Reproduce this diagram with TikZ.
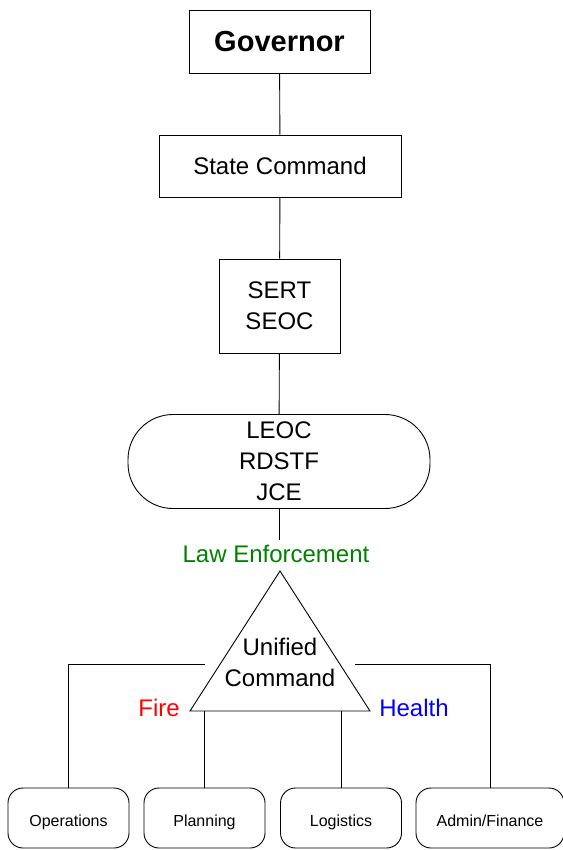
\documentclass[tikz,border=0pt]{standalone}
\usepackage{fontspec}
\setmainfont{Liberation Sans}
\definecolor{icsink}{HTML}{000000}
\definecolor{icsgreen}{HTML}{008000}
\definecolor{icsred}{HTML}{FF0000}
\definecolor{icsblue}{HTML}{0000FF}
\tikzset{
  ics line/.style={draw=icsink, line width=0.9pt},
  ics box/.style={ics line, rectangle, inner sep=0pt, align=center,
    font=\fontsize{24}{31}\selectfont},
  ics pill/.style={ics box, rounded corners=45pt},
  section box/.style={ics line, rectangle, rounded corners=15pt,
    inner sep=0pt, minimum width=121pt, minimum height=60pt,
    text height=16pt, text depth=0pt,
    font=\fontsize{16}{19}\selectfont},
  agency label/.style={font=\fontsize{24}{29}\selectfont},
}

\begin{document}
\begin{tikzpicture}[x=1pt, y=-1pt]
  \useasboundingbox (0,0) rectangle (562,850);

  \node[ics box, minimum width=181pt, minimum height=63pt,
    font=\bfseries\fontsize{29}{35}\selectfont] (gov) at (279.5,41.5) {Governor};
  \node[ics box, minimum width=242pt, minimum height=62pt] (state) at (280,166) {State Command};
  \node[ics box, minimum width=121pt, minimum height=94pt] (sert) at (279.5,306) {SERT\\SEOC};
  \node[ics pill, minimum width=302pt, minimum height=94pt] (leoc) at (279,461.5) {LEOC\\RDSTF\\JCE};
  \node[agency label, text=icsgreen, inner sep=5pt] (law) at (276,554) {Law Enforcement};

  \coordinate (uc top) at (280,571);
  \coordinate (uc left) at (190,711);
  \coordinate (uc right) at (370,711);
  \draw[ics line] (uc top) -- (uc left) -- (uc right) -- cycle;
  \node[align=center, font=\fontsize{24}{31}\selectfont] (uc) at (280,662) {Unified\\Command};
  \node[agency label, text=icsred] (fire) at (159,708) {Fire};
  \node[agency label, text=icsblue] (health) at (414,708) {Health};

  \node[section box] (ops) at (68.5,818) {Operations};
  \node[section box] (plan) at (204.5,818) {Planning};
  \node[section box] (log) at (341,818) {Logistics};
  \node[section box, minimum width=148pt] (admin) at (490,818) {Admin/Finance};

  \coordinate (ops join) at (205,664);
  \coordinate (admin join) at (355,664);

  \draw[ics line] (gov) -- (state);
  \draw[ics line] (state) -- (sert);
  \draw[ics line] (sert) -- (leoc);
  \draw[ics line] (leoc.south) -- (leoc.south |- law.north);
  \draw[ics line] (ops join) -| (ops.north);
  \draw[ics line] (admin join) -| (admin.north);
  \draw[ics line] (plan.north |- uc left) -- (plan.north);
  \draw[ics line] (log.north |- uc left) -- (log.north);
\end{tikzpicture}
\end{document}
